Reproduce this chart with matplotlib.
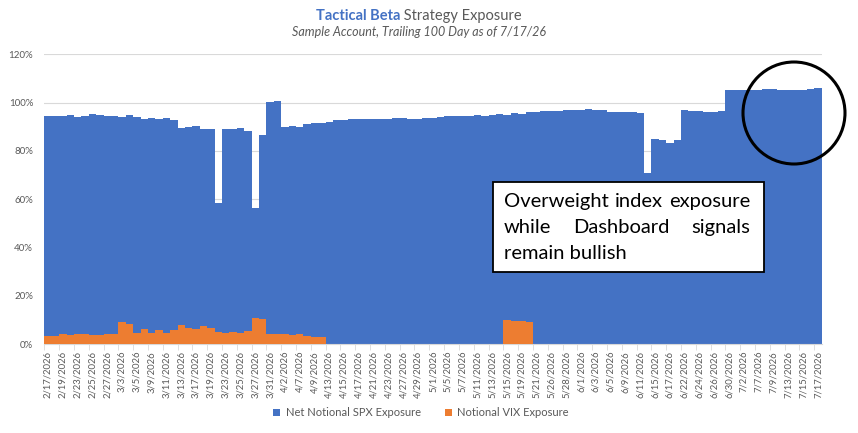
import matplotlib
matplotlib.use("Agg")
import matplotlib.pyplot as plt
import matplotlib.patches as mpatches
import numpy as np
import pandas as pd

plt.rcParams['font.family'] = ['Lato', 'DejaVu Sans']

# trading days 2/17/2026 - 7/17/2026 (market holidays removed)
holidays = ['2026-04-03', '2026-05-25', '2026-06-19', '2026-07-03']
days = pd.bdate_range('2026-02-17', '2026-07-17', freq='C', holidays=holidays)
day_labels = [f"{d.month}/{d.day}/{d.year}" for d in days]

# exposure in %
spx = [94.6, 94.6, 94.6, 95.0, 94.2, 94.6, 95.3, 95.0, 94.6, 94.5,
       94.1, 95.0, 94.2, 93.2, 93.7, 93.4, 93.7, 92.7, 89.3, 89.9,
       90.1, 89.2, 89.2, 58.6, 89.2, 89.2, 89.6, 88.4, 56.2, 86.7,
       100.4, 100.6, 89.8, 90.2, 89.7, 91.0, 91.7, 91.4, 92.0, 92.7,
       92.9, 93.1, 93.3, 93.3, 93.1, 93.3, 93.3, 93.8, 93.8, 93.3,
       93.3, 93.8, 93.8, 93.9, 94.4, 94.4, 94.5, 94.5, 95.0, 94.5,
       95.0, 95.4, 95.0, 95.7, 95.4, 96.1, 96.1, 96.5, 96.5, 96.5,
       96.9, 96.9, 96.9, 97.3, 97.0, 97.0, 96.1, 96.1, 96.1, 96.0,
       95.8, 70.7, 85.0, 84.5, 83.4, 84.5, 96.9, 96.5, 96.5, 96.3,
       96.0, 96.4, 105.1, 105.2, 105.2, 105.3, 105.3, 105.5, 105.5, 105.2,
       105.2, 105.4, 105.4, 105.5, 106.0]
vix = [3.4, 3.4, 4.0, 3.7, 4.0, 4.0, 3.7, 3.7, 4.0, 4.0,
       9.1, 8.3, 4.7, 6.1, 4.7, 5.7, 4.7, 5.7, 7.7, 6.5,
       6.1, 7.3, 6.8, 5.1, 4.7, 5.1, 4.7, 5.5, 10.9, 10.3,
       4.0, 4.0, 4.0, 3.7, 4.2, 3.3, 3.0, 3.0, 0, 0,
       0, 0, 0, 0, 0, 0, 0, 0, 0, 0,
       0, 0, 0, 0, 0, 0, 0, 0, 0, 0,
       0, 0, 9.9, 9.5, 9.5, 9.1, 0, 0, 0, 0,
       0, 0, 0, 0, 0, 0, 0, 0, 0, 0,
       0, 0, 0, 0, 0, 0, 0, 0, 0, 0,
       0, 0, 0, 0, 0, 0, 0, 0, 0, 0,
       0, 0, 0, 0, 0]

W, H = 858, 433
blue = '#4472C4'
orange = '#ED7D31'
gray = '#595959'

fig = plt.figure(figsize=(W / 100, H / 100), dpi=100)
ax = fig.add_axes([44.3 / W, 89 / H, 777.4 / W, 289.7 / H])

x = np.arange(len(days))
ax.bar(x, spx, width=1.0, color=blue, linewidth=0, antialiased=False,
       label='Net Notional SPX Exposure', zorder=2)
ax.bar(x, vix, width=1.0, color=orange, linewidth=0, antialiased=False,
       label='Notional VIX Exposure', zorder=3)

ax.set_xlim(-0.5, len(days) - 0.5)
ax.set_ylim(0, 120)
ax.set_yticks(range(0, 121, 20))
ax.set_yticklabels([f"{v}%" for v in range(0, 121, 20)], fontsize=7, color=gray)
ax.set_xticks(x[::2])
ax.set_xticklabels(day_labels[::2], rotation=90, fontsize=6.8, color=gray)
ax.set_xticks(np.arange(-0.5, len(days), 2), minor=True)
ax.tick_params(axis='x', which='major', length=0, pad=5)
ax.tick_params(axis='x', which='minor', length=4, color='#D9D9D9')
ax.tick_params(axis='y', length=0, pad=8)
ax.grid(axis='y', color='#D9D9D9', linewidth=0.8, zorder=0)
ax.set_axisbelow(True)
for s in ['top', 'right', 'left']:
    ax.spines[s].set_visible(False)
ax.spines['bottom'].set_color('#D9D9D9')

ax.legend(loc='center', bbox_to_anchor=(421 / W, 1 - 413 / H), bbox_transform=fig.transFigure,
          ncol=2, frameon=False, fontsize=8, handlelength=0.6, handleheight=0.6,
          handletextpad=0.5, columnspacing=2.2, labelcolor=gray)

r = fig.canvas.get_renderer()

# title in two colours
t1 = fig.text(0, 1 - 20 / H, 'Tactical Beta', fontsize=10.5, fontweight='bold',
              color=blue, va='baseline')
t2 = fig.text(0, 1 - 20 / H, ' Strategy Exposure', fontsize=10.5, color=gray, va='baseline')
w1 = t1.get_window_extent(r).width
w2 = t2.get_window_extent(r).width
x0 = 419 - (w1 + w2) / 2
t1.set_x(x0 / W)
t2.set_x((x0 + w1) / W)
fig.text(419 / W, 1 - 36.5 / H, 'Sample Account, Trailing 100 Day as of 7/17/26',
         fontsize=9, style='italic', color=gray, ha='center', va='baseline')

# note box
fig.patches.append(mpatches.Rectangle((493 / W, 1 - 272 / H), 271 / W, 90 / H,
                                      transform=fig.transFigure, facecolor='white',
                                      edgecolor='black', linewidth=1.3, zorder=5))


def justify(words, y, x0=504, x1=750, size=14.5):
    objs = [fig.text(0, 1 - y / H, w, fontsize=size, va='baseline', color='black', zorder=6)
            for w in words]
    widths = [o.get_window_extent(r).width for o in objs]
    gap = (x1 - x0 - sum(widths)) / max(len(words) - 1, 1)
    xp = x0
    for o, w in zip(objs, widths):
        o.set_x(xp / W)
        xp += w + gap


justify(['Overweight', 'index', 'exposure'], 207)
justify(['while', 'Dashboard', 'signals'], 233)
fig.text(504 / W, 1 - 259 / H, 'remain bullish', fontsize=14.5, va='baseline',
         color='black', zorder=6)

# circle around the last weeks
fig.patches.append(mpatches.Ellipse((794 / W, 1 - 113 / H), 102 / W, 102 / H,
                                    transform=fig.transFigure, fill=False,
                                    edgecolor='black', linewidth=2.2, zorder=5))

fig.savefig('out.png', dpi=100)
